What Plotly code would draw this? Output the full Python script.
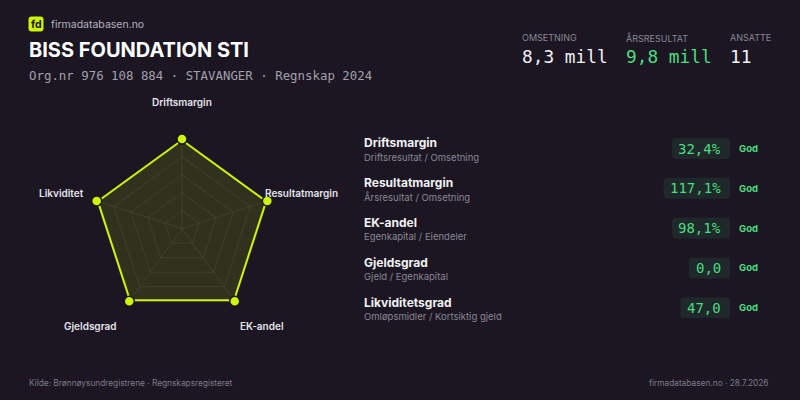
import plotly.graph_objects as go

# radar scores (0-100, higher is better)
axes = ["Driftsmargin", "Resultatmargin", "EK-andel", "Gjeldsgrad", "Likviditet"]
scores = [100, 100, 100, 100, 100]

# key figures in the header
kpi_labels = ["OMSETNING", "ÅRSRESULTAT", "ANSATTE"]
kpi_values = ["8,3 mill", "9,8 mill", "11"]

# ratio table
ratio_names = ["Driftsmargin", "Resultatmargin", "EK-andel", "Gjeldsgrad", "Likviditetsgrad"]
ratio_formulas = ["Driftsresultat / Omsetning", "Årsresultat / Omsetning", "Egenkapital / Eiendeler",
                  "Gjeld / Egenkapital", "Omløpsmidler / Kortsiktig gjeld"]
ratio_values = ["32,4%", "117,1%", "98,1%", "0,0", "47,0"]
ratio_rating = ["God", "God", "God", "God", "God"]

W, H = 800, 400
BG = "#1b1622"
LIME = "#ccf500"
GREEN = "#4ade80"
GRAY = "#8a8794"
SANS = "Inter"
MONO = "DejaVu Sans Mono"


def px(x):
    return x / W


def py(y):
    return 1 - y / H


fig = go.Figure()

fig.add_trace(go.Scatterpolar(
    r=scores + scores[:1],
    theta=axes + axes[:1],
    mode="lines+markers",
    fill="toself",
    fillcolor="rgba(200,240,0,0.13)",
    line=dict(color=LIME, width=4),
    marker=dict(size=10, color=LIME, line=dict(color=BG, width=1.5)),
    hoverinfo="skip",
))

# radar geometry (pixels)
cx, cy, R = 182, 228.7, 89.7

fig.update_layout(
    width=W, height=H,
    margin=dict(l=0, r=0, t=0, b=0),
    paper_bgcolor=BG,
    plot_bgcolor=BG,
    showlegend=False,
    polar=dict(
        domain=dict(x=[px(cx - R), px(cx + R)], y=[py(cy + R), py(cy - R)]),
        bgcolor="rgba(0,0,0,0)",
        gridshape="linear",
        radialaxis=dict(range=[0, 100], tickvals=[20, 40, 60, 80, 100], showticklabels=False,
                        gridcolor="rgba(255,255,255,0.07)", showline=False, ticks=""),
        angularaxis=dict(rotation=90, direction="clockwise", showticklabels=False, ticks="",
                         gridcolor="rgba(255,255,255,0.07)", linecolor="rgba(255,255,255,0.07)"),
    ),
)

ann = []
shapes = []


def text(x, y, s, size, color, family=SANS, anchor="left", weight=None):
    f = dict(family=family, size=size, color=color)
    if weight:
        f["weight"] = weight
    ann.append(dict(x=px(x), y=py(y), xref="paper", yref="paper", text=s, showarrow=False,
                    xanchor=anchor, yanchor="middle", font=f))


def rrect(x0, y0, x1, y1, r, color):
    rx, ry = r / W, r / H
    X0, X1, Y0, Y1 = px(x0), px(x1), py(y1), py(y0)
    path = (f"M {X0+rx},{Y0} L {X1-rx},{Y0} Q {X1},{Y0} {X1},{Y0+ry} L {X1},{Y1-ry} "
            f"Q {X1},{Y1} {X1-rx},{Y1} L {X0+rx},{Y1} Q {X0},{Y1} {X0},{Y1-ry} "
            f"L {X0},{Y0+ry} Q {X0},{Y0} {X0+rx},{Y0} Z")
    shapes.append(dict(type="path", xref="paper", yref="paper", path=path,
                       fillcolor=color, line=dict(width=0), layer="below"))


# logo + brand
rrect(28.5, 16.5, 43.5, 31.5, 3, LIME)
text(36, 24, "fd", 10.5, BG, anchor="center", weight=700)
text(49, 24, "firmadatabasen.no", 10.5, "#b4b1bc")

# title block
text(27, 50, "BISS FOUNDATION STI", 20, "#ffffff", weight=700)
text(27, 76, "Org.nr 976 108 884 · STAVANGER · Regnskap 2024", 12.4, "#a3a0ab", family=MONO)

# KPIs
for i, (lab, val) in enumerate(zip(kpi_labels, kpi_values)):
    x = [520, 624, 728][i]
    text(x, 38, lab, 9, GRAY)
    text(x, 57, val, 17.8, GREEN if i == 1 else "#f2f2f5", family=MONO)

# radar axis labels
label_pos = [(182, 102, "center"), (263, 193, "left"), (238, 326, "left"),
             (119, 326, "right"), (86, 193, "right")]
for name, (x, y, a) in zip(axes, label_pos):
    text(x, y, name, 10, "#e4e4ea", anchor=a, weight=600)

# ratio rows
for i, (n, f, v, g) in enumerate(zip(ratio_names, ratio_formulas, ratio_values, ratio_rating)):
    y = 143 + i * 39.8
    text(362, y, n, 12, "#f2f2f5", weight=700)
    text(362, y + 14, f, 9.5, GRAY)
    w = len(v) * 8.4 + 16
    rrect(730 - w, y - 5, 730, y + 16, 4, "rgba(74,222,128,0.09)")
    text(723, y + 5.5, v, 14, GREEN, family=MONO, anchor="right")
    text(737, y + 5.5, g, 9.5, GREEN, weight=700)

# footer
text(27, 383, "Kilde: Brønnøysundregistrene · Regnskapsregisteret", 8.3, "#7d7a86")
text(771, 383, "firmadatabasen.no · 28.7.2026", 8.3, "#7d7a86", anchor="right")

fig.update_layout(annotations=ann, shapes=shapes)
fig.write_html("out.html", config={"displayModeBar": False},
               post_script="document.body.style.margin='0';")
